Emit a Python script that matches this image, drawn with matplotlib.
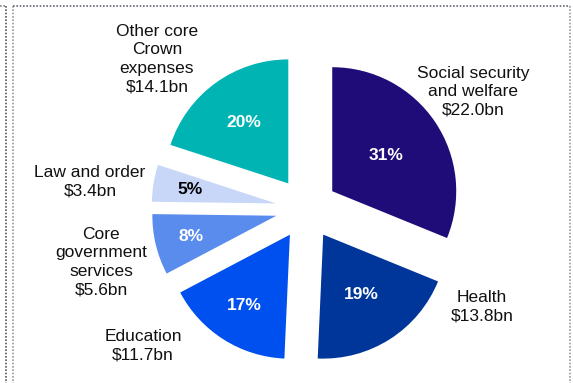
import numpy as np
import matplotlib
matplotlib.use("Agg")
import matplotlib.pyplot as plt
from matplotlib.lines import Line2D

plt.rcParams['font.family'] = ['Liberation Sans', 'DejaVu Sans']

# spending by category, $bn
categories = ["Social security\nand welfare", "Health", "Education",
              "Core\ngovernment\nservices", "Law and order",
              "Other core\nCrown\nexpenses"]
values = [22.0, 13.8, 11.7, 5.6, 3.4, 14.1]
pct_labels = ["31%", "19%", "17%", "8%", "5%", "20%"]
colors = ["#200C78", "#00369A", "#0050F0", "#5A8CEE", "#C8D7F8", "#00B4B4"]
pct_colors = ["white", "white", "white", "white", "black", "white"]

W, H = 573, 383
fig = plt.figure(figsize=(W / 100, H / 100), dpi=100)
ax = fig.add_axes([0, 0, 1, 1])

R = 124
wedges, _ = ax.pie(values, colors=colors, startangle=90, counterclock=False,
                   radius=R, center=(306.5, H - 208.5),
                   explode=[31] * len(values), frame=True)
ax.set_xlim(0, W)
ax.set_ylim(0, H)
ax.set_aspect("equal")
ax.axis("off")

# percentage labels inside each wedge
pct_dist = [0.52, 0.57, 0.68, 0.71, 0.70, 0.61]
for w, txt, c, d in zip(wedges, pct_labels, pct_colors, pct_dist):
    mid = np.deg2rad((w.theta1 + w.theta2) / 2)
    cx, cy = w.center
    ax.text(cx + d * R * np.cos(mid), cy + d * R * np.sin(mid), txt,
            ha="center", va="center", color=c, fontsize=12.5, fontweight="bold")

# category labels outside the pie (pixel positions, y from top)
label_pos = [(473, 92), (482, 307), (143, 346), (101, 262), (90, 182), (157, 59)]
for name, v, (px, py) in zip(categories, values, label_pos):
    ax.text(px, H - py, f"{name}\n${v:.1f}bn", ha="center", va="center",
            fontsize=12.5, color="#111111", linespacing=1.28)

# dotted frame lines
def fline(x0, y0, x1, y1, color):
    fig.add_artist(Line2D([x0 / W, x1 / W], [1 - y0 / H, 1 - y1 / H],
                          transform=fig.transFigure, color=color, lw=1.2,
                          linestyle=(0, (1, 1))))

fline(5.5, 5.5, 5.5, H, "#555555")
fline(0, 5.5, 6, 5.5, "#888888")
fline(12.5, 5.5, 12.5, H, "#999999")
fline(12.5, 5.5, 569.5, 5.5, "#666677")
fline(569.5, 5.5, 569.5, H, "#999999")

fig.savefig("out.png", dpi=100)
